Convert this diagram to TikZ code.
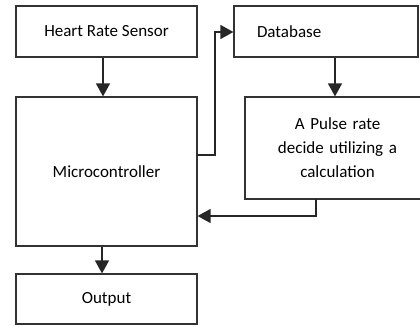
\documentclass[tikz,border=0pt]{standalone}
\usepackage{fontspec}
\setmainfont{Carlito}
\usetikzlibrary{arrows.meta,positioning}
\tikzset{
every picture/.style={
line width=1.2pt
}}
\tikzset{
box/.style={rectangle, draw=black!80, fill=white, align=center, inner sep=0pt,
  font=\fontsize{17}{24}\selectfont, text=black},
link/.style={-{Triangle[length=13pt,width=14pt]}, line width=1.4pt, draw=black!85}
}

\begin{document}
\begin{tikzpicture}[x=1pt, y=-1pt]
\useasboundingbox (0,0) rectangle (420,325);

\node [box, minimum width=181pt, minimum height=51pt] at (106.5,31.5) (hrs) {Heart Rate Sensor};
\node [box, minimum width=184pt, minimum height=51pt, text width=138pt, align=left, inner xsep=23pt] at (326,31.5) (db) {Database};
\node [box, minimum width=181pt, minimum height=149pt] at (106.5,171.5) (mc) {Microcontroller};
\node [box, minimum width=181pt, minimum height=50pt] at (106.5,299) (out) {Output};
\node [box, minimum width=185pt, minimum height=102pt, text width=150pt] at (337.5,148) (calc) {A Pulse rate\\decide utilizing a\\calculation};

\coordinate (mcout) at (197,155);
\coordinate (calcout) at (316,199);

\draw[link] (hrs.south -| 103,0) -- (mc.north -| 103,0);
\draw[link] (db.south -| 335,0) -- (calc.north -| 335,0);
\draw[link] (mcout) -| (215,32) -- (db.west |- 0,32);
\draw[link] (calcout) |- (mc.east |- 0,216);
\draw[link] (mc.south -| 102,0) -- (out.north -| 102,0);

\end{tikzpicture}
\end{document}
